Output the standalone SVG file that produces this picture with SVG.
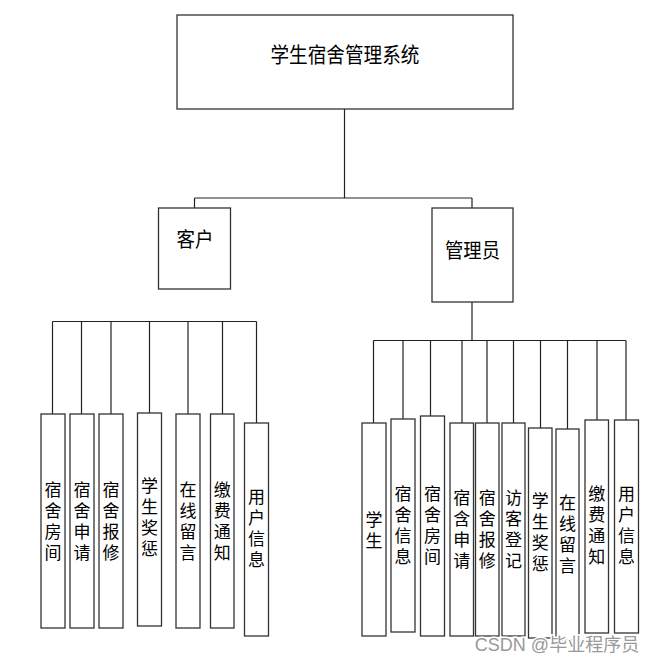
<svg xmlns="http://www.w3.org/2000/svg" width="658" height="663" viewBox="0 0 658 663">
<style>
.box{fill:#fff;stroke:#333;stroke-width:1.3}
.ln{fill:none;stroke:#222;stroke-width:1.2}
text{font-family:"Noto Sans CJK SC","Liberation Sans",sans-serif;fill:#000;text-anchor:middle}
.v{font-size:17px;writing-mode:vertical-rl;letter-spacing:4px}
.wm{font-size:18px;fill:#999;stroke:#fff;stroke-width:3;paint-order:stroke;font-family:"Liberation Sans","Noto Sans CJK SC",sans-serif}
</style>
<rect width="658" height="663" fill="#fff"/>
<g id="connectors">
<path class="ln" d="M344.5 109V198M194.5 198H472M194.5 198V208M472 198V208"/>
<path class="ln" d="M52.5 321.5H256.5M52.5 321.5V414M81.5 321.5V414M111 321.5V414M149.5 321.5V413M188 321.5V414M222.5 321.5V414M256.5 321.5V423"/>
<path class="ln" d="M472 302V340.5M373.5 340.5H626M373.5 340.5V423M403 340.5V419M430.5 340.5V416M462 340.5V423M487 340.5V423M513.5 340.5V423M540.5 340.5V428M567.5 340.5V429M597 340.5V420M626 340.5V420"/>
</g>
<g id="root"><rect class="box" x="177" y="15" width="336" height="94"/><text x="345" y="62" font-size="21" textLength="149" lengthAdjust="spacingAndGlyphs">学生宿舍管理系统</text></g>
<g id="client"><rect class="box" x="158.5" y="208" width="72" height="81"/><text x="195" y="247" font-size="20" textLength="37" lengthAdjust="spacingAndGlyphs">客户</text></g>
<g id="admin"><rect class="box" x="432" y="208" width="81" height="94"/><text x="472.5" y="258" font-size="20" textLength="55" lengthAdjust="spacingAndGlyphs">管理员</text></g>

<g id="c1"><rect class="box" x="41" y="414" width="24" height="214"/><text class="v" x="53" y="523">宿舍房间</text></g>
<g id="c2"><rect class="box" x="70" y="414" width="24" height="214"/><text class="v" x="82" y="523">宿舍申请</text></g>
<g id="c3"><rect class="box" x="99" y="414" width="24" height="214"/><text class="v" x="111" y="523">宿舍报修</text></g>
<g id="c4"><rect class="box" x="137.5" y="413" width="24" height="213"/><text class="v" x="149.5" y="519.5">学生奖惩</text></g>
<g id="c5"><rect class="box" x="176" y="414" width="24" height="214"/><text class="v" x="188" y="523">在线留言</text></g>
<g id="c6"><rect class="box" x="210.5" y="414" width="23.5" height="214"/><text class="v" x="222.3" y="523">缴费通知</text></g>
<g id="c7"><rect class="box" x="244.5" y="423" width="24" height="213"/><text class="v" x="256.5" y="530">用户信息</text></g>

<g id="a1"><rect class="box" x="362" y="423" width="24" height="213"/><text class="v" x="374" y="532">学生</text></g>
<g id="a2"><rect class="box" x="391" y="419" width="24" height="213"/><text class="v" x="403" y="527">宿舍信息</text></g>
<g id="a3"><rect class="box" x="420.5" y="416" width="24" height="220"/><text class="v" x="432.5" y="527">宿舍房间</text></g>
<g id="a4"><rect class="box" x="450" y="423" width="23.5" height="213"/><text class="v" x="461.8" y="531">宿含申请</text></g>
<g id="a5"><rect class="box" x="475.5" y="423" width="23.5" height="213"/><text class="v" x="487.3" y="531">宿舍报修</text></g>
<g id="a6"><rect class="box" x="502" y="423" width="23" height="213"/><text class="v" x="513.5" y="531">访客登记</text></g>
<g id="a7"><rect class="box" x="528.5" y="428" width="23.5" height="210"/><text class="v" x="540.3" y="534">学生奖惩</text></g>
<g id="a8"><rect class="box" x="556" y="429" width="23" height="211"/><text class="v" x="567.5" y="536">在线留言</text></g>
<g id="a9"><rect class="box" x="585" y="420" width="23.5" height="213"/><text class="v" x="596.8" y="527">缴费通知</text></g>
<g id="a10"><rect class="box" x="614.5" y="420" width="24" height="213"/><text class="v" x="626.5" y="527">用户信息</text></g>

<text class="wm" x="557" y="651">CSDN @毕业程序员</text>
</svg>
